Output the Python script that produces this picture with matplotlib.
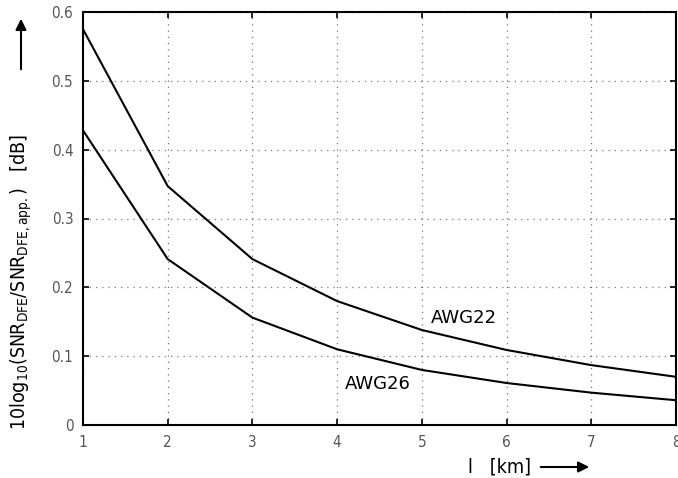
import matplotlib.pyplot as plt
from matplotlib.patches import FancyArrowPatch

plt.rcParams['font.family'] = ['DejaVu Sans']
plt.rcParams['font.stretch'] = 'condensed'

length_km = [1, 2, 3, 4, 5, 6, 7, 8]
awg22 = [0.575, 0.347, 0.241, 0.180, 0.138, 0.109, 0.087, 0.070]
awg26 = [0.428, 0.241, 0.156, 0.110, 0.080, 0.061, 0.047, 0.036]

fig = plt.figure(figsize=(6.78, 4.78), dpi=100)
ax = fig.add_axes([83 / 678, 53 / 478, 593 / 678, 413 / 478])

ax.plot(length_km, awg22, color='black', lw=1.5)
ax.plot(length_km, awg26, color='black', lw=1.5)

ax.set_xlim(1, 8)
ax.set_ylim(0, 0.6)
ax.set_xticks(length_km)
ax.set_yticks([0, 0.1, 0.2, 0.3, 0.4, 0.5, 0.6])
ax.set_yticklabels(['0', '0.1', '0.2', '0.3', '0.4', '0.5', '0.6'])
ax.grid(True, linestyle=(0, (1, 4)), color='#777777', lw=0.9)
ax.tick_params(direction='in', length=4, width=1.2, labelsize=11, labelcolor='#555555',
               top=True, right=True, pad=7)
for s in ax.spines.values():
    s.set_linewidth(1.5)

ax.text(5.5, 0.155, 'AWG22', fontsize=13, ha='center', va='center', fontstretch='normal')
ax.text(4.48, 0.060, 'AWG26', fontsize=13, ha='center', va='center', fontstretch='normal')

fig.text(21 / 678, 1 - 282 / 478, r'10log$_{10}$(SNR$_{\rm DFE}$/SNR$_{\rm DFE,app.}$)   [dB]',
         rotation=90, fontsize=14, ha='center', va='center')
fig.add_artist(FancyArrowPatch(
    (21 / 678, 1 - 72 / 478), (21 / 678, 1 - 16 / 478), transform=fig.transFigure,
    arrowstyle='-|>', mutation_scale=16, color='black', lw=1.5))

fig.text(500 / 678, 1 - 467 / 478, 'l   [km]', fontsize=14, ha='center', va='center')
fig.add_artist(FancyArrowPatch(
    (538 / 678, 1 - 467 / 478), (592 / 678, 1 - 467 / 478), transform=fig.transFigure,
    arrowstyle='-|>', mutation_scale=16, color='black', lw=1.5))

fig.savefig('out.png', dpi=100)
